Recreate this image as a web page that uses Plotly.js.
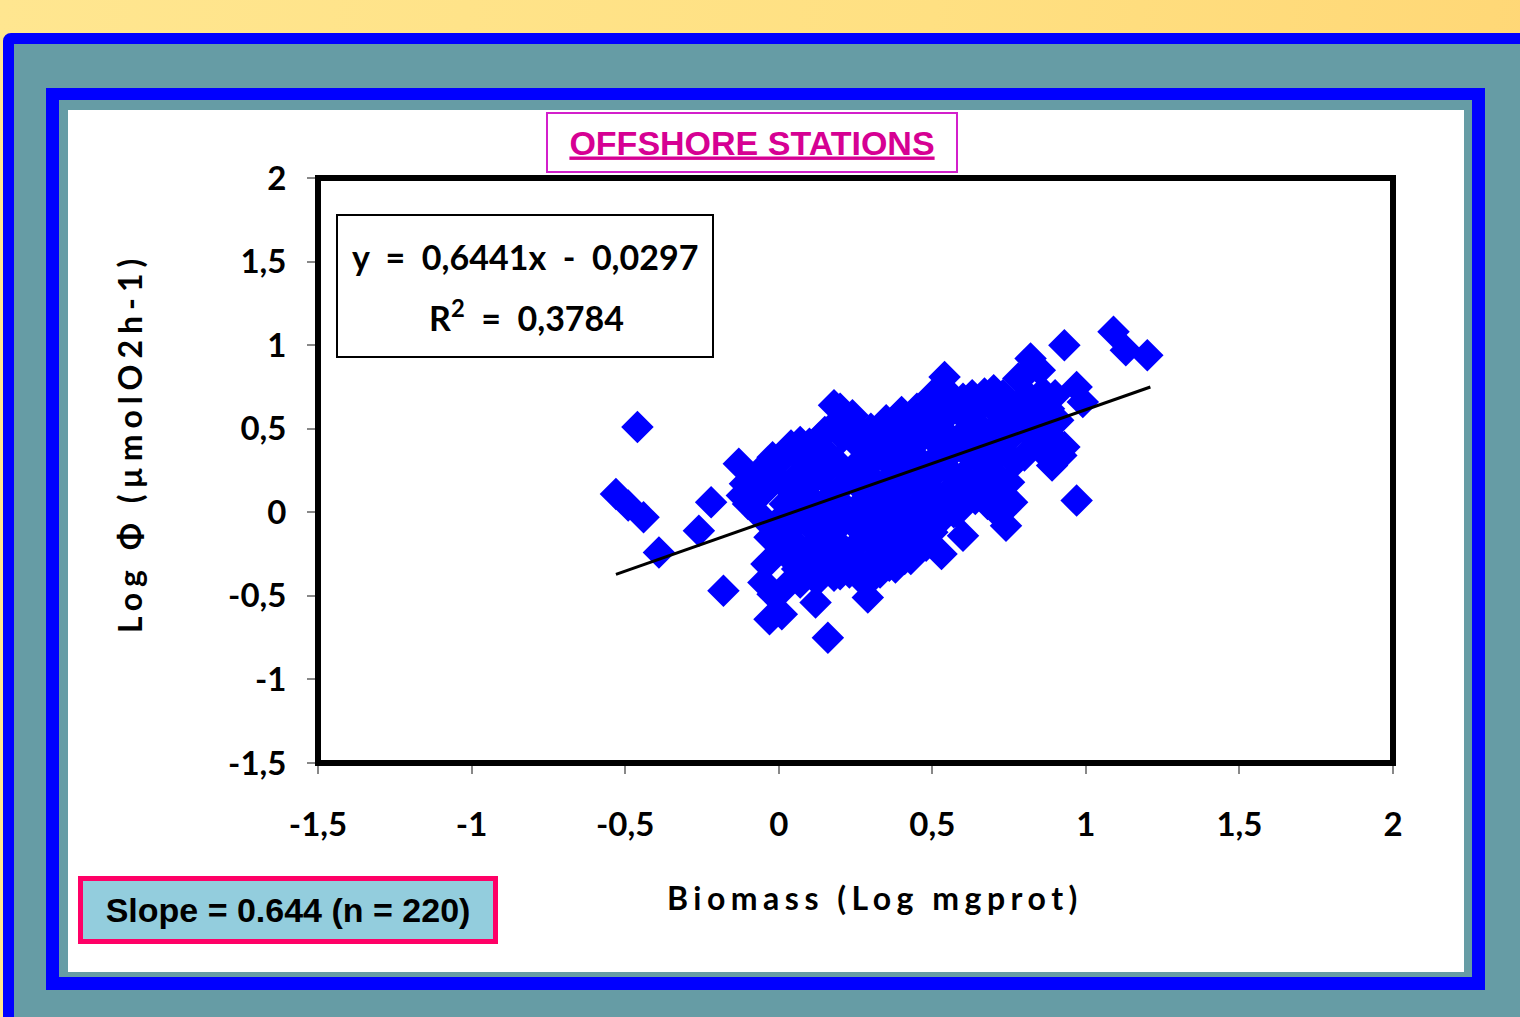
<!DOCTYPE html>
<html>
<head>
<meta charset="utf-8">
<script src="https://cdn.plot.ly/plotly-3.0.1.min.js"></script>
<style>
html,body{margin:0;padding:0;width:1520px;height:1017px;overflow:hidden;
  background:linear-gradient(100deg,#FFE690 0%,#FFE082 55%,#FFD573 100%);}
#outer{position:absolute;left:3px;top:33px;width:1540px;height:1010px;box-sizing:border-box;
  border:11px solid #0000FF;border-radius:8px;background:#669CA5;}
#inner{position:absolute;left:46px;top:88px;width:1439px;height:902px;box-sizing:border-box;
  border-style:solid;border-color:#0000FF;border-width:12px 13px 13px 13px;background:#669CA5;}
#white{position:absolute;left:68px;top:110px;width:1396px;height:862px;background:#ffffff;}
#chart{position:absolute;left:0;top:0;width:1520px;height:1017px;}
</style>
</head>
<body>
<div id="outer"></div>
<div id="inner"></div>
<div id="white"></div>
<div id="chart"></div>
<script>
// ---- data ----
// Biomass (Log mgprot)
const biomass = [
  -0.53,-0.49,-0.44,-0.46,-0.39,-0.26,-0.22,-0.18,-0.13,-0.11,-0.07,-0.08,-0.04,-0.05,-0.03,
  -0.04,-0.02,-0.03,0.01,-0.05,0.12,0.16,0.29,0.53,0.60,0.74,0.97,0.93,0.89,0.93,
  1.09,1.13,1.20,0.82,0.54,0.67,0.97,0.99,0.18,0.24,0.38,0.07,0.78,0.87,0.70,
  0.00,0.01,0.02,0.00,0.03,0.01,0.04,
  0.05,0.06,0.05,0.07,0.05,0.06,0.08,
  0.10,0.11,0.09,0.12,0.10,0.11,0.09,0.12,
  0.15,0.16,0.14,0.17,0.15,0.16,0.14,0.17,
  0.20,0.21,0.19,0.22,0.20,0.21,0.19,0.22,0.20,
  0.25,0.26,0.24,0.27,0.25,0.26,0.24,0.27,0.28,
  0.30,0.31,0.29,0.32,0.30,0.31,0.29,0.32,0.31,
  0.35,0.36,0.34,0.37,0.35,0.36,0.34,0.37,0.36,
  0.40,0.41,0.39,0.42,0.40,0.41,0.39,0.42,0.41,
  0.45,0.46,0.44,0.47,0.45,0.46,0.44,0.47,0.46,
  0.50,0.51,0.49,0.52,0.50,0.51,0.49,0.52,0.50,
  0.55,0.56,0.54,0.57,0.55,0.56,0.54,0.57,
  0.60,0.61,0.59,0.62,0.60,0.61,0.59,
  0.65,0.66,0.64,0.67,0.65,0.66,0.64,
  0.70,0.71,0.69,0.72,0.70,0.71,
  0.75,0.76,0.74,0.77,0.75,0.76,0.73,
  0.80,0.81,0.79,0.82,0.80,
  0.85,0.86,0.84,0.87,0.85,
  0.90,0.91,0.89,0.92,
  -0.10,-0.06,-0.12,-0.02,0.04,0.08,0.13,0.18,0.23,0.28,0.33,0.38,0.43,0.48,0.53,0.58,
  0.63,0.68,0.73,0.78,0.83,0.88,0.02,0.07,0.13,0.18,0.23,0.33,0.38,0.43,0.48,0.58,0.68
];
// Log Φ (µmolO2h-1)
const logPhi = [
  0.11,0.04,-0.03,0.51,-0.24,-0.11,0.06,-0.47,0.29,0.17,0.23,0.15,0.26,0.12,-0.15,
  -0.31,-0.49,-0.64,-0.61,-0.42,-0.54,-0.75,-0.51,-0.25,-0.14,-0.08,0.07,0.39,0.28,1.00,
  1.08,0.97,0.94,0.92,0.81,0.71,0.75,0.66,0.64,0.58,0.56,0.42,0.80,0.61,0.02,
  0.30,0.18,0.05,-0.05,-0.12,-0.22,-0.28,
  0.36,0.22,0.10,-0.02,-0.18,-0.34,-0.26,
  0.41,0.30,0.15,0.05,-0.08,-0.20,-0.30,-0.40,
  0.48,0.35,0.22,0.10,-0.02,-0.13,-0.25,-0.35,
  0.62,0.45,0.30,0.18,0.06,-0.06,-0.18,-0.28,-0.37,
  0.52,0.40,0.26,0.14,0.02,-0.10,-0.22,-0.33,-0.42,
  0.50,0.38,0.28,0.17,0.07,-0.04,-0.15,-0.26,-0.38,
  0.55,0.44,0.33,0.22,0.10,0.00,-0.12,-0.22,-0.32,
  0.60,0.48,0.36,0.25,0.14,0.03,-0.08,-0.18,-0.28,
  0.62,0.50,0.40,0.29,0.18,0.06,-0.05,-0.15,-0.22,
  0.70,0.58,0.46,0.34,0.22,0.11,0.00,-0.06,-0.12,
  0.72,0.60,0.48,0.37,0.26,0.14,0.06,0.00,
  0.68,0.56,0.45,0.34,0.22,0.12,0.05,
  0.62,0.50,0.40,0.28,0.18,0.12,0.08,
  0.73,0.60,0.48,0.36,0.24,0.12,
  0.66,0.54,0.42,0.30,0.18,0.06,0.10,
  0.82,0.70,0.58,0.46,0.34,
  0.85,0.72,0.60,0.50,0.38,
  0.70,0.55,0.45,0.34,
  0.05,-0.02,0.10,0.33,0.40,0.38,0.44,0.52,0.47,0.43,0.47,0.52,0.55,0.62,0.66,0.64,
  0.70,0.66,0.70,0.62,0.66,0.62,-0.45,-0.42,-0.40,-0.38,-0.36,-0.36,-0.33,-0.28,-0.20,0.00,0.05
];
// Linear trend shown on the chart: y = 0,6441x - 0,0297
const trendSlope = 0.6441;
const trendIntercept = -0.0297;
const trendX = [-0.53, 1.21];
const trendY = trendX.map(x => trendSlope * x + trendIntercept);

const tickVals = [-1.5, -1, -0.5, 0, 0.5, 1, 1.5, 2];
const tickText = ['-1,5', '-1', '-0,5', '0', '0,5', '1', '1,5', '2'];

const titleText = 'OFFSHORE STATIONS';
const xTitle = 'Biomass (Log mgprot)';
const yTitle = 'Log Φ (µmolO2h-1)';
const eqLine1 = 'y  =  0,6441x  -  0,0297';
const eqLine2 = 'R<sup>2</sup>  =  0,3784';
const slopeText = 'Slope = 0.644 (n = 220)';

// ---- chart ----
const calib = 'Lato, "Noto Sans", "Open Sans", sans-serif';
const arial = '"Liberation Sans", Arial, sans-serif';
const L = 318, R = 1393, T = 178, B = 763;
const px = v => (v - L) / (R - L);
const py = v => (B - v) / (B - T);

const traces = [
  {
    type: 'scatter', mode: 'markers', x: biomass, y: logPhi,
    marker: { symbol: 'diamond', size: 25, color: '#0000FF', line: { width: 0 } },
    hoverinfo: 'x+y'
  },
  {
    type: 'scatter', mode: 'lines', x: trendX, y: trendY,
    line: { color: '#000000', width: 3 }, hoverinfo: 'skip'
  }
];

const axisCommon = {
  range: [-1.5, 2], tickmode: 'array', tickvals: tickVals, ticktext: tickText,
  ticks: 'outside', ticklen: 9, tickwidth: 2, tickcolor: '#888888',
  showline: true, linecolor: '#888888', linewidth: 2,
  showgrid: false, zeroline: false, fixedrange: true,
  tickfont: { family: calib, size: 33, color: '#000000', weight: 'bold' }
};

const layout = {
  width: 1520, height: 1017,
  margin: { l: L, r: 1520 - R, t: T, b: 1017 - B, pad: 0 },
  paper_bgcolor: 'rgba(0,0,0,0)', plot_bgcolor: '#ffffff',
  showlegend: false,
  xaxis: Object.assign({}, axisCommon, { ticklabelstandoff: 22 }),
  yaxis: Object.assign({}, axisCommon, { ticklabelstandoff: 14 }),
  shapes: [
    { type: 'rect', xref: 'paper', yref: 'paper', x0: 0, x1: 1, y0: 0, y1: 1,
      line: { color: '#000000', width: 6 }, layer: 'above' },
    { type: 'rect', xref: 'paper', yref: 'paper', x0: px(337), x1: px(713), y0: py(357), y1: py(215),
      line: { color: '#000000', width: 2 }, fillcolor: '#ffffff', layer: 'below' }
  ],
  annotations: [
    { xref: 'paper', yref: 'paper', x: px(752), y: py(142.5), xanchor: 'center', yanchor: 'middle',
      text: '<u>' + titleText + '</u>', showarrow: false,
      font: { family: arial, size: 34, color: '#D60093', weight: 'bold' },
      bordercolor: '#D31FCB', borderwidth: 2, borderpad: 2, bgcolor: '#ffffff', width: 404, height: 53 },
    { xref: 'paper', yref: 'paper', x: px(525), y: py(256), xanchor: 'center', yanchor: 'middle',
      text: eqLine1, showarrow: false,
      font: { family: calib, size: 34, color: '#000000', weight: 'bold' } },
    { xref: 'paper', yref: 'paper', x: px(526), y: py(316), xanchor: 'center', yanchor: 'middle',
      text: eqLine2, showarrow: false,
      font: { family: calib, size: 34, color: '#000000', weight: 'bold' } },
    { xref: 'paper', yref: 'paper', x: px(875), y: py(897), xanchor: 'center', yanchor: 'middle',
      text: '<span style="letter-spacing:5.5px">' + xTitle + '</span>', showarrow: false,
      font: { family: calib, size: 32, color: '#000000', weight: 'bold' } },
    { xref: 'paper', yref: 'paper', x: px(130), y: py(443), xanchor: 'center', yanchor: 'middle',
      textangle: -90,
      text: '<span style="letter-spacing:6px">' + yTitle + '</span>', showarrow: false,
      font: { family: calib, size: 32, color: '#000000', weight: 'bold' } },
    { xref: 'paper', yref: 'paper', x: px(287.5), y: py(909.5), xanchor: 'center', yanchor: 'middle',
      text: slopeText, showarrow: false,
      font: { family: arial, size: 34, color: '#000000', weight: 'bold' },
      bordercolor: '#FF0066', borderwidth: 5, borderpad: 2, bgcolor: '#93CDDD', width: 406, height: 54 }
  ]
};

Plotly.newPlot('chart', traces, layout, { staticPlot: true, displayModeBar: false });
</script>
</body>
</html>
